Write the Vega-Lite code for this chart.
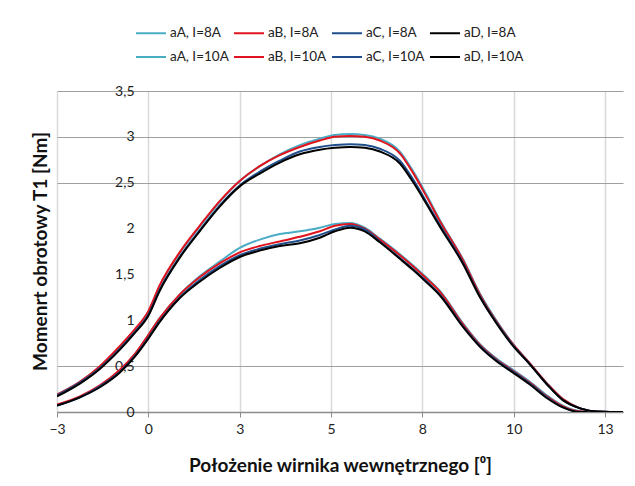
{
  "$schema": "https://vega.github.io/schema/vega-lite/v6.json",
  "width": 566,
  "height": 321,
  "autosize": {"type": "none"},
  "padding": {"left": 57, "top": 91, "right": 12, "bottom": 74},
  "background": "white",
  "data": {"values": [
    {"x": -2.6, "aA, I=8A": 0.07, "aB, I=8A": 0.08, "aC, I=8A": 0.07, "aD, I=8A": 0.07, "aA, I=10A": 0.19, "aB, I=10A": 0.19, "aC, I=10A": 0.18, "aD, I=10A": 0.17},
    {"x": -1.95, "aA, I=8A": 0.16, "aB, I=8A": 0.17, "aC, I=8A": 0.16, "aD, I=8A": 0.16, "aA, I=10A": 0.33, "aB, I=10A": 0.33, "aC, I=10A": 0.32, "aD, I=10A": 0.31},
    {"x": -1.38, "aA, I=8A": 0.28, "aB, I=8A": 0.29, "aC, I=8A": 0.28, "aD, I=8A": 0.27, "aA, I=10A": 0.49, "aB, I=10A": 0.50, "aC, I=10A": 0.48, "aD, I=10A": 0.47},
    {"x": -0.81, "aA, I=8A": 0.45, "aB, I=8A": 0.46, "aC, I=8A": 0.44, "aD, I=8A": 0.43, "aA, I=10A": 0.71, "aB, I=10A": 0.72, "aC, I=10A": 0.69, "aD, I=10A": 0.68},
    {"x": -0.39, "aA, I=8A": 0.62, "aB, I=8A": 0.63, "aC, I=8A": 0.61, "aD, I=8A": 0.60, "aA, I=10A": 0.89, "aB, I=10A": 0.90, "aC, I=10A": 0.87, "aD, I=10A": 0.86},
    {"x": 0, "aA, I=8A": 0.84, "aB, I=8A": 0.84, "aC, I=8A": 0.81, "aD, I=8A": 0.80, "aA, I=10A": 1.09, "aB, I=10A": 1.10, "aC, I=10A": 1.06, "aD, I=10A": 1.05},
    {"x": 0.32, "aA, I=8A": 1.02, "aB, I=8A": 1.02, "aC, I=8A": 0.99, "aD, I=8A": 0.98, "aA, I=10A": 1.37, "aB, I=10A": 1.38, "aC, I=10A": 1.33, "aD, I=10A": 1.32},
    {"x": 0.89, "aA, I=8A": 1.28, "aB, I=8A": 1.28, "aC, I=8A": 1.25, "aD, I=8A": 1.24, "aA, I=10A": 1.73, "aB, I=10A": 1.74, "aC, I=10A": 1.69, "aD, I=10A": 1.68},
    {"x": 1.46, "aA, I=8A": 1.48, "aB, I=8A": 1.47, "aC, I=8A": 1.44, "aD, I=8A": 1.42, "aA, I=10A": 2.02, "aB, I=10A": 2.03, "aC, I=10A": 1.98, "aD, I=10A": 1.97},
    {"x": 2.03, "aA, I=8A": 1.64, "aB, I=8A": 1.62, "aC, I=8A": 1.59, "aD, I=8A": 1.57, "aA, I=10A": 2.29, "aB, I=10A": 2.30, "aC, I=10A": 2.25, "aD, I=10A": 2.24},
    {"x": 2.6, "aA, I=8A": 1.79, "aB, I=8A": 1.74, "aC, I=8A": 1.71, "aD, I=8A": 1.69, "aA, I=10A": 2.52, "aB, I=10A": 2.52, "aC, I=10A": 2.47, "aD, I=10A": 2.46},
    {"x": 3.17, "aA, I=8A": 1.88, "aB, I=8A": 1.81, "aC, I=8A": 1.78, "aD, I=8A": 1.76, "aA, I=10A": 2.68, "aB, I=10A": 2.68, "aC, I=10A": 2.62, "aD, I=10A": 2.60},
    {"x": 3.74, "aA, I=8A": 1.94, "aB, I=8A": 1.86, "aC, I=8A": 1.83, "aD, I=8A": 1.81, "aA, I=10A": 2.81, "aB, I=10A": 2.80, "aC, I=10A": 2.74, "aD, I=10A": 2.72},
    {"x": 4.31, "aA, I=8A": 1.97, "aB, I=8A": 1.91, "aC, I=8A": 1.87, "aD, I=8A": 1.84, "aA, I=10A": 2.91, "aB, I=10A": 2.89, "aC, I=10A": 2.84, "aD, I=10A": 2.81},
    {"x": 4.88, "aA, I=8A": 2.01, "aB, I=8A": 1.97, "aC, I=8A": 1.93, "aD, I=8A": 1.90, "aA, I=10A": 2.98, "aB, I=10A": 2.96, "aC, I=10A": 2.89, "aD, I=10A": 2.86},
    {"x": 5.31, "aA, I=8A": 2.05, "aB, I=8A": 2.03, "aC, I=8A": 1.99, "aD, I=8A": 1.97, "aA, I=10A": 3.02, "aB, I=10A": 3.00, "aC, I=10A": 2.91, "aD, I=10A": 2.88},
    {"x": 5.74, "aA, I=8A": 2.06, "aB, I=8A": 2.05, "aC, I=8A": 2.03, "aD, I=8A": 2.01, "aA, I=10A": 3.03, "aB, I=10A": 3.01, "aC, I=10A": 2.92, "aD, I=10A": 2.89},
    {"x": 6.16, "aA, I=8A": 2.01, "aB, I=8A": 2.00, "aC, I=8A": 1.99, "aD, I=8A": 1.97, "aA, I=10A": 3.02, "aB, I=10A": 3.00, "aC, I=10A": 2.91, "aD, I=10A": 2.88},
    {"x": 6.59, "aA, I=8A": 1.89, "aB, I=8A": 1.88, "aC, I=8A": 1.86, "aD, I=8A": 1.85, "aA, I=10A": 2.98, "aB, I=10A": 2.96, "aC, I=10A": 2.87, "aD, I=10A": 2.84},
    {"x": 7.16, "aA, I=8A": 1.72, "aB, I=8A": 1.71, "aC, I=8A": 1.68, "aD, I=8A": 1.67, "aA, I=10A": 2.84, "aB, I=10A": 2.82, "aC, I=10A": 2.74, "aD, I=10A": 2.71},
    {"x": 7.53, "aA, I=8A": 1.60, "aB, I=8A": 1.59, "aC, I=8A": 1.56, "aD, I=8A": 1.55, "aA, I=10A": 2.63, "aB, I=10A": 2.61, "aC, I=10A": 2.54, "aD, I=10A": 2.51},
    {"x": 7.93, "aA, I=8A": 1.46, "aB, I=8A": 1.45, "aC, I=8A": 1.42, "aD, I=8A": 1.41, "aA, I=10A": 2.36, "aB, I=10A": 2.34, "aC, I=10A": 2.28, "aD, I=10A": 2.26},
    {"x": 8.3, "aA, I=8A": 1.32, "aB, I=8A": 1.31, "aC, I=8A": 1.28, "aD, I=8A": 1.27, "aA, I=10A": 2.09, "aB, I=10A": 2.08, "aC, I=10A": 2.04, "aD, I=10A": 2.02},
    {"x": 8.95, "aA, I=8A": 0.97, "aB, I=8A": 0.96, "aC, I=8A": 0.94, "aD, I=8A": 0.93, "aA, I=10A": 1.67, "aB, I=10A": 1.66, "aC, I=10A": 1.63, "aD, I=10A": 1.62},
    {"x": 9.44, "aA, I=8A": 0.74, "aB, I=8A": 0.73, "aC, I=8A": 0.72, "aD, I=8A": 0.71, "aA, I=10A": 1.29, "aB, I=10A": 1.28, "aC, I=10A": 1.26, "aD, I=10A": 1.25},
    {"x": 9.92, "aA, I=8A": 0.58, "aB, I=8A": 0.57, "aC, I=8A": 0.56, "aD, I=8A": 0.55, "aA, I=10A": 0.99, "aB, I=10A": 0.98, "aC, I=10A": 0.97, "aD, I=10A": 0.96},
    {"x": 10.38, "aA, I=8A": 0.46, "aB, I=8A": 0.45, "aC, I=8A": 0.44, "aD, I=8A": 0.43, "aA, I=10A": 0.74, "aB, I=10A": 0.74, "aC, I=10A": 0.73, "aD, I=10A": 0.72},
    {"x": 10.86, "aA, I=8A": 0.33, "aB, I=8A": 0.32, "aC, I=8A": 0.31, "aD, I=8A": 0.30, "aA, I=10A": 0.53, "aB, I=10A": 0.53, "aC, I=10A": 0.52, "aD, I=10A": 0.52},
    {"x": 11.35, "aA, I=8A": 0.18, "aB, I=8A": 0.17, "aC, I=8A": 0.16, "aD, I=8A": 0.15, "aA, I=10A": 0.31, "aB, I=10A": 0.31, "aC, I=10A": 0.30, "aD, I=10A": 0.30},
    {"x": 11.8, "aA, I=8A": 0.07, "aB, I=8A": 0.06, "aC, I=8A": 0.05, "aD, I=8A": 0.05, "aA, I=10A": 0.14, "aB, I=10A": 0.14, "aC, I=10A": 0.13, "aD, I=10A": 0.13},
    {"x": 12.29, "aA, I=8A": 0.01, "aB, I=8A": 0.005, "aC, I=8A": 0, "aD, I=8A": 0, "aA, I=10A": 0.04, "aB, I=10A": 0.04, "aC, I=10A": 0.04, "aD, I=10A": 0.04},
    {"x": 12.77, "aA, I=8A": 0, "aB, I=8A": 0, "aC, I=8A": 0, "aD, I=8A": 0, "aA, I=10A": 0.005, "aB, I=10A": 0.005, "aC, I=10A": 0.005, "aD, I=10A": 0.005},
    {"x": 13.14, "aA, I=8A": 0, "aB, I=8A": 0, "aC, I=8A": 0, "aD, I=8A": 0, "aA, I=10A": 0, "aB, I=10A": 0, "aC, I=10A": 0, "aD, I=10A": 0},
    {"x": 13.51, "aA, I=8A": 0, "aB, I=8A": 0, "aC, I=8A": 0, "aD, I=8A": 0, "aA, I=10A": 0, "aB, I=10A": 0, "aC, I=10A": 0, "aD, I=10A": 0}
  ]},
  "transform": [
    {"fold": ["aA, I=8A", "aB, I=8A", "aC, I=8A", "aD, I=8A", "aA, I=10A", "aB, I=10A", "aC, I=10A", "aD, I=10A"], "as": ["series", "torque"]}
  ],
  "mark": {"type": "line", "interpolate": "monotone", "strokeWidth": 2, "clip": true},
  "encoding": {
    "x": {
      "field": "x", "type": "quantitative",
      "scale": {"domain": [-2.6, 13.51], "nice": false, "zero": false},
      "axis": {
        "values": [-2.6, 0, 2.6, 5.2, 7.8, 10.4, 13],
        "labelExpr": "format(round(datum.value), 'd')",
        "grid": true, "gridColor": "#d9d9d9", "gridWidth": 1.5,
        "domainColor": "#8c8c8c", "domainWidth": 1.5,
        "tickColor": "#8c8c8c", "tickSize": 5,
        "labelFont": "Lato", "labelFontSize": 14, "labelColor": "#222222", "labelPadding": 5, "labelFlush": false,
        "title": "Położenie wirnika wewnętrznego [⁰]",
        "titleFont": "Lato", "titleFontSize": 19, "titleFontWeight": "bold", "titleColor": "#111111",
        "titleY": 53, "titleBaseline": "middle"
      }
    },
    "y": {
      "field": "torque", "type": "quantitative",
      "scale": {"domain": [0, 3.5], "nice": false},
      "axis": {
        "values": [0, 0.5, 1, 1.5, 2, 2.5, 3, 3.5],
        "labelExpr": "replace(format(datum.value, '.1~f'), '.', ',')",
        "offset": -91,
        "domain": false, "ticks": false, "tickSize": 0,
        "grid": true, "gridColor": "#a0a0a0", "gridWidth": 1.2,
        "gridOpacity": {"condition": {"test": "datum.value > 0.75 && datum.value < 2.25", "value": 0}, "value": 1},
        "labelFont": "Lato", "labelFontSize": 14, "labelColor": "#222222", "labelPadding": 14,
        "title": "Momenrt obrotowy T1 [Nm]",
        "titleFont": "Lato", "titleFontSize": 19, "titleFontWeight": "bold", "titleColor": "#111111",
        "titleX": -108, "titleY": 160, "titleAngle": -90, "titleAlign": "center", "titleBaseline": "middle"
      }
    },
    "color": {
      "field": "series", "type": "nominal",
      "scale": {
        "domain": ["aA, I=8A", "aB, I=8A", "aC, I=8A", "aD, I=8A", "aA, I=10A", "aB, I=10A", "aC, I=10A", "aD, I=10A"],
        "range": ["#4bacc6", "#e0141e", "#1f4e8c", "#000000", "#4bacc6", "#e0141e", "#1f4e8c", "#000000"]
      },
      "legend": {
        "orient": "none", "legendX": 78, "legendY": -74,
        "direction": "horizontal", "columns": 4, "title": null,
        "symbolType": "stroke", "symbolSize": 900, "symbolStrokeWidth": 2,
        "labelFont": "Lato", "labelFontSize": 13.5, "labelColor": "#222222", "labelOffset": 3,
        "columnPadding": 0, "rowPadding": 1, "gridAlign": "all", "labelLimit": 200
      }
    }
  },
  "config": {"view": {"stroke": null}, "font": "Lato"}
}
